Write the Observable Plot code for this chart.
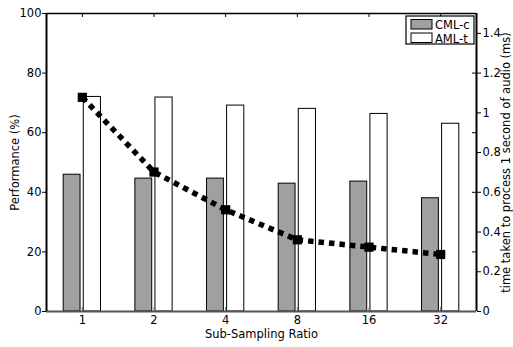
<!DOCTYPE html>
<html>
<head>
<meta charset="utf-8">
<script src="https://cdn.jsdelivr.net/npm/d3@7"></script>
<script src="https://cdn.jsdelivr.net/npm/@observablehq/plot@0.6"></script>
<style>
  html, body { margin: 0; padding: 0; background: #fff; }
</style>
</head>
<body>
<div id="chart"></div>
<script>
const ratios = ["1", "2", "4", "8", "16", "32"];
const cmlC = [45.9, 44.6, 44.6, 42.9, 43.6, 38.0];
const amlT = [72.0, 71.8, 69.1, 68.0, 66.3, 63.0];
const timeMs = [1.078, 0.702, 0.512, 0.361, 0.324, 0.287];
const perfTicks = [0, 20, 40, 60, 80, 100];
const timeTicks = [0, 0.2, 0.4, 0.6, 0.8, 1.0, 1.2, 1.4];
const timeMax = 1.5;
const seriesNames = ["CML-c", "AML-t"];

const W = 513, H = 347;
const mL = 46, mR = 37, mT = 13, mB = 36;
const plotW = W - mL - mR, plotH = H - mT - mB;
const toPerf = t => t * 100 / timeMax;

const idx = ratios.map((_, i) => i);
const bars = idx.map(i => ({i, cml: cmlC[i], aml: amlT[i]}));
const line = idx.map(i => ({i, y: toPerf(timeMs[i])}));

const legend = () => {
  const g = d3.create("svg:g");
  const x0 = W - mR - 70, y0 = mT + 3;
  g.append("rect").attr("x", x0).attr("y", y0).attr("width", 68).attr("height", 28)
    .attr("fill", "#fff").attr("stroke", "#000").attr("stroke-width", 1.2);
  const fills = ["#a0a0a0", "#fff"];
  seriesNames.forEach((name, k) => {
    const yy = y0 + 3.5 + k * 13.5;
    g.append("rect").attr("x", x0 + 5).attr("y", yy).attr("width", 21).attr("height", 9.5)
      .attr("fill", fills[k]).attr("stroke", "#000").attr("stroke-width", 1);
    g.append("text").attr("x", x0 + 29).attr("y", yy + 9.5).text(name)
      .attr("text-anchor", "start")
      .attr("font-size", 11.5).attr("fill", "#000");
  });
  return g.node();
};

const chart = Plot.plot({
  width: W, height: H,
  marginLeft: mL, marginRight: mR, marginTop: mT, marginBottom: mB,
  style: {fontFamily: "DejaVu Sans", fontSize: "11.5px", color: "#000", background: "#fff"},
  x: {type: "linear", domain: [-0.5, 5.5], axis: null},
  y: {domain: [0, 100], axis: null},
  marks: [
    Plot.rect(bars, {x1: d => d.i - 0.26, x2: d => d.i - 0.025, y1: 0, y2: "cml", fill: "#a0a0a0", stroke: "#000", strokeWidth: 1}),
    Plot.rect(bars, {x1: d => d.i + 0.02, x2: d => d.i + 0.26, y1: 0, y2: "aml", fill: "#fff", stroke: "#000", strokeWidth: 1}),
    Plot.line(line, {x: "i", y: "y", stroke: "#000", strokeWidth: 5.5, strokeDasharray: "5.5,5", strokeLinecap: "butt", strokeLinejoin: "miter"}),
    Plot.dot(line, {x: "i", y: "y", symbol: "square", r: 5.2, fill: "#000", stroke: "none"}),
    // ticks inside frame
    Plot.tickX(idx, {x: d => d, insetBottom: plotH - 4, stroke: "#000"}),
    Plot.tickX(idx, {x: d => d, insetTop: plotH - 4, stroke: "#777"}),
    Plot.tickY(perfTicks.slice(1, -1), {y: d => d, insetLeft: plotW - 4, stroke: "#000"}),
    // frame lines
    Plot.ruleY([100], {stroke: "#000", strokeWidth: 1.5}),
    Plot.ruleY([0], {stroke: "#555", strokeWidth: 2}),
    Plot.ruleX([-0.5], {stroke: "#000", strokeWidth: 2}),
    Plot.ruleX([5.5], {stroke: "#000", strokeWidth: 2}),
    // axes
    Plot.axisY(perfTicks, {anchor: "left", tickSize: 4, tickPadding: 1, label: null, fontSize: 11.5}),
    Plot.axisY(timeTicks.map(toPerf), {anchor: "right", tickSize: 4, tickPadding: 2, label: null,
      tickFormat: d => d3.format("~g")(Math.round(d * timeMax / 100 * 10) / 10)}),
    Plot.axisX(idx, {anchor: "bottom", tickSize: 0, tickPadding: 4, label: null, tickFormat: i => ratios[i]}),
    Plot.text(["Performance (%)"], {frameAnchor: "left", dx: -31, rotate: -90, textAnchor: "middle", fontSize: 11.5}),
    Plot.text(["time taken to process 1 second of audio (ms)"], {frameAnchor: "right", dx: 30, rotate: -90, textAnchor: "middle", fontSize: 11.5}),
    Plot.text(["Sub-Sampling Ratio"], {frameAnchor: "bottom", dy: 26, fontSize: 11.5}),
    legend
  ]
});
document.getElementById("chart").appendChild(chart);
</script>
</body>
</html>
